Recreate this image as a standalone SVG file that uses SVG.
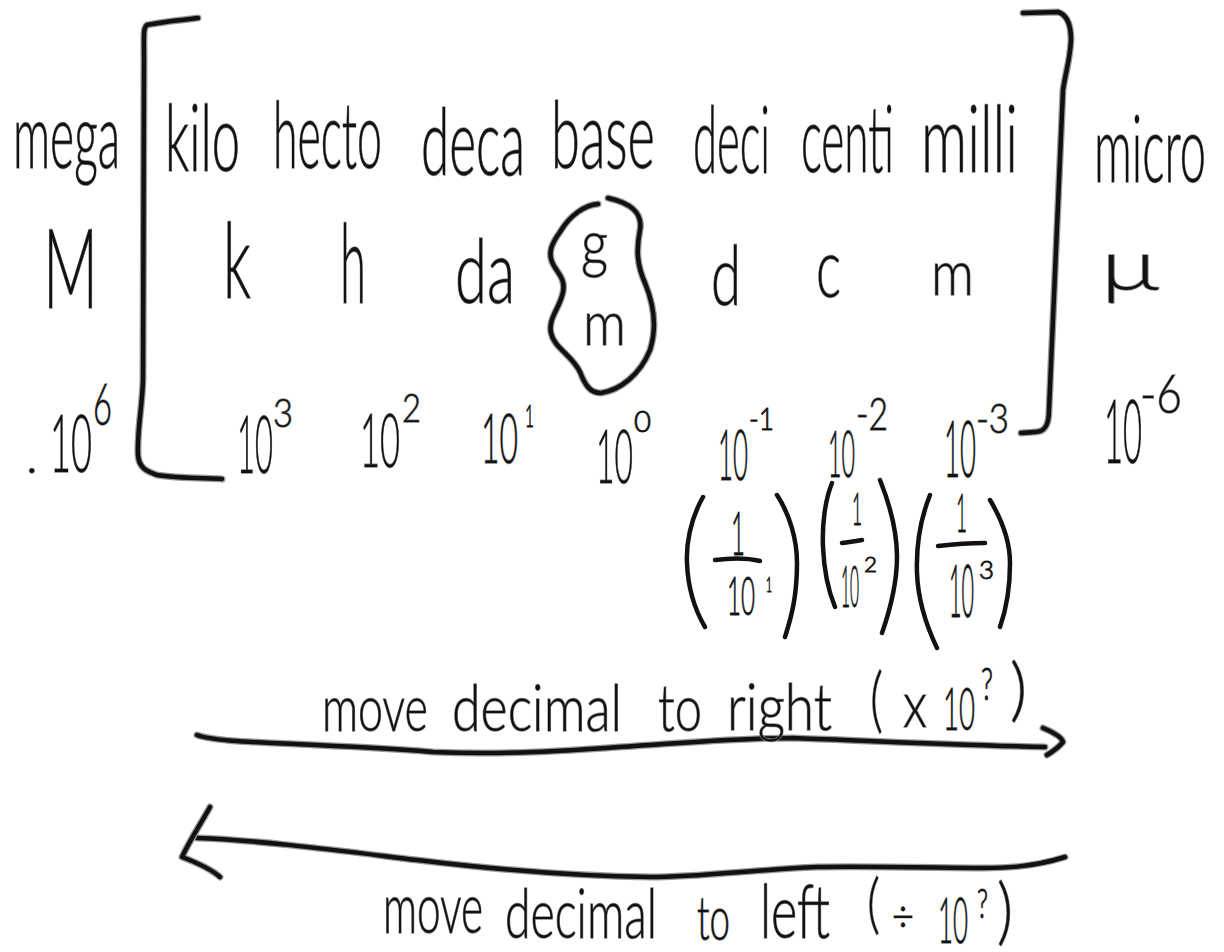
<svg xmlns="http://www.w3.org/2000/svg" width="1224" height="952" viewBox="0 0 1224 952">
<style>
.t{font-family:"Lato","Liberation Sans",Arial,sans-serif;font-weight:300;fill:#111;stroke:#8a8a8a;stroke-width:1.4;paint-order:stroke}
.s{stroke:#333;stroke-width:1}
.ink{fill:none;stroke:#111;stroke-width:4.5;stroke-linecap:round;stroke-linejoin:round}
.halo{fill:none;stroke:#9a9a9a;stroke-width:7;stroke-linecap:round;stroke-linejoin:round}
</style>
<rect width="1224" height="952" fill="#fff"/>
<g id="brackets">
<path class="halo" d="M198,18 C180,20 160,22 147,25 C143,28 144,35 144,60 L143,380 C142,410 137,430 138,455 C139,470 150,472 157,475 C175,478 200,478 222,479"/>
<path class="ink" d="M198,18 C180,20 160,22 147,25 C143,28 144,35 144,60 L143,380 C142,410 137,430 138,455 C139,470 150,472 157,475 C175,478 200,478 222,479"/>
<path class="halo" d="M1023,13 L1058,12 C1068,15 1071,25 1071,40 C1070,60 1066,70 1063,90 L1056,250 L1049,410 C1049,425 1045,432 1035,432 L1021,433"/>
<path class="ink" d="M1023,13 L1058,12 C1068,15 1071,25 1071,40 C1070,60 1066,70 1063,90 L1056,250 L1049,410 C1049,425 1045,432 1035,432 L1021,433"/>
</g>
<g id="mega">
<text class="t" x="13" y="168" font-size="90" textLength="107" lengthAdjust="spacingAndGlyphs">mega</text>
<text class="t" x="43" y="308" font-size="110" textLength="55" lengthAdjust="spacingAndGlyphs">M</text>
<text class="t" x="26" y="473" font-size="50">.</text>
<text class="t" x="50" y="472" font-size="80" textLength="42" lengthAdjust="spacingAndGlyphs">10</text>
<text class="t" x="93" y="425" font-size="58" textLength="19" lengthAdjust="spacingAndGlyphs">6</text>
</g>
<g id="kilo">
<text class="t" x="165" y="171" font-size="92" textLength="75" lengthAdjust="spacingAndGlyphs">kilo</text>
<text class="t" x="223" y="298" font-size="104" textLength="28" lengthAdjust="spacingAndGlyphs">k</text>
<text class="t" x="237" y="473" font-size="80" textLength="36" lengthAdjust="spacingAndGlyphs">10</text>
<text class="t" x="273" y="427" font-size="40" textLength="20" lengthAdjust="spacingAndGlyphs">3</text>
</g>
<g id="hecto">
<text class="t" x="273" y="168" font-size="92" textLength="109" lengthAdjust="spacingAndGlyphs">hecto</text>
<text class="t" x="340" y="303" font-size="110" textLength="26" lengthAdjust="spacingAndGlyphs">h</text>
<text class="t" x="360" y="467" font-size="74" textLength="40" lengthAdjust="spacingAndGlyphs">10</text>
<text class="t" x="402" y="422" font-size="40" textLength="19" lengthAdjust="spacingAndGlyphs">2</text>
</g>
<g id="deca">
<text class="t" x="421" y="175" font-size="92" textLength="104" lengthAdjust="spacingAndGlyphs">deca</text>
<text class="t" x="455" y="303" font-size="88" textLength="60" lengthAdjust="spacingAndGlyphs">da</text>
<text class="t" x="481" y="463" font-size="68" textLength="37" lengthAdjust="spacingAndGlyphs">10</text>
<text class="t s" x="525" y="427" font-size="32" textLength="9" lengthAdjust="spacingAndGlyphs">1</text>
</g>
<g id="base">
<text class="t" x="551" y="168" font-size="92" textLength="104" lengthAdjust="spacingAndGlyphs">base</text>
<path class="halo" d="M598,204 C585,205 570,215 560,232 C552,243 548,252 552,262 C556,272 566,278 563,292 C560,308 548,318 551,333 C554,348 572,355 580,372 C585,385 590,393 601,393 C620,390 640,375 650,350 C658,325 652,300 645,283 C637,265 636,250 640,230 C643,212 630,203 608,198"/>
<path class="ink" d="M598,204 C585,205 570,215 560,232 C552,243 548,252 552,262 C556,272 566,278 563,292 C560,308 548,318 551,333 C554,348 572,355 580,372 C585,385 590,393 601,393 C620,390 640,375 650,350 C658,325 652,300 645,283 C637,265 636,250 640,230 C643,212 630,203 608,198"/>
<text class="t" x="581" y="266" font-size="66" textLength="27" lengthAdjust="spacingAndGlyphs">g</text>
<text class="t" x="583" y="345" font-size="62" textLength="43" lengthAdjust="spacingAndGlyphs">m</text>
<text class="t" x="596" y="483" font-size="75" textLength="37" lengthAdjust="spacingAndGlyphs">10</text>
<text class="t s" x="634" y="432" font-size="30" textLength="17" lengthAdjust="spacingAndGlyphs">0</text>
</g>
<g id="deci">
<text class="t" x="693" y="173" font-size="92" textLength="77" lengthAdjust="spacingAndGlyphs">deci</text>
<text class="t" x="711" y="305" font-size="82" textLength="30" lengthAdjust="spacingAndGlyphs">d</text>
<text class="t" x="718" y="480" font-size="70" textLength="30" lengthAdjust="spacingAndGlyphs">10</text>
<text class="t s" x="749" y="430" font-size="32" textLength="25" lengthAdjust="spacingAndGlyphs">-1</text>
</g>
<g id="centi">
<text class="t" x="801" y="172" font-size="92" textLength="93" lengthAdjust="spacingAndGlyphs">centi</text>
<text class="t" x="816" y="297" font-size="82" textLength="25" lengthAdjust="spacingAndGlyphs">c</text>
<text class="t" x="828" y="477" font-size="66" textLength="27" lengthAdjust="spacingAndGlyphs">10</text>
<text class="t" x="856" y="430" font-size="46" textLength="32" lengthAdjust="spacingAndGlyphs">-2</text>
</g>
<g id="milli">
<text class="t" x="921" y="172" font-size="92" textLength="97" lengthAdjust="spacingAndGlyphs">milli</text>
<text class="t" x="931" y="295" font-size="64" textLength="43" lengthAdjust="spacingAndGlyphs">m</text>
<text class="t" x="944" y="477" font-size="78" textLength="32" lengthAdjust="spacingAndGlyphs">10</text>
<text class="t" x="976" y="433" font-size="42" textLength="33" lengthAdjust="spacingAndGlyphs">-3</text>
</g>
<g id="micro">
<text class="t" x="1094" y="182" font-size="92" textLength="112" lengthAdjust="spacingAndGlyphs">micro</text>
<text class="t" x="1101" y="290" font-size="70" textLength="58" lengthAdjust="spacingAndGlyphs">μ</text>
<text class="t" x="1104" y="463" font-size="88" textLength="38" lengthAdjust="spacingAndGlyphs">10</text>
<text class="t" x="1140" y="413" font-size="53" textLength="42" lengthAdjust="spacingAndGlyphs">-6</text>
</g>
<g id="fractions">
<g id="frac-1">
<path class="ink" d="M703,497 C690,520 686,545 687,563 C688,590 695,610 705,627"/>
<path class="ink" d="M777,495 C790,515 797,540 797,563 C797,595 792,615 785,637"/>
<text class="t s" x="731" y="555" font-size="62" textLength="14" lengthAdjust="spacingAndGlyphs">1</text>
<path class="ink" d="M715,560 C730,558 748,558 760,561"/>
<text class="t s" x="727" y="615" font-size="54" textLength="28" lengthAdjust="spacingAndGlyphs">10</text>
<text class="t s" x="766" y="592" font-size="22" textLength="6" lengthAdjust="spacingAndGlyphs">1</text>
</g>
<g id="frac-2">
<path class="ink" d="M832,483 C825,500 822,525 823,547 C824,570 828,590 835,607"/>
<path class="ink" d="M880,480 C890,505 897,530 897,557 C897,585 890,610 882,633"/>
<text class="t s" x="852" y="525" font-size="45" textLength="10" lengthAdjust="spacingAndGlyphs">1</text>
<path class="ink" d="M842,543 C850,542 856,541 862,540"/>
<text class="t s" x="841" y="607" font-size="58" textLength="18" lengthAdjust="spacingAndGlyphs">10</text>
<text class="t s" x="864" y="572" font-size="22" textLength="13" lengthAdjust="spacingAndGlyphs">2</text>
</g>
<g id="frac-3">
<path class="ink" d="M930,495 C920,520 916,545 917,573 C918,600 926,625 937,648"/>
<path class="ink" d="M990,500 C1002,520 1010,540 1010,563 C1010,590 1006,610 1000,627"/>
<text class="t s" x="956" y="532" font-size="54" textLength="11" lengthAdjust="spacingAndGlyphs">1</text>
<path class="ink" d="M938,546 C955,544 970,543 985,543"/>
<text class="t s" x="949" y="617" font-size="72" textLength="25" lengthAdjust="spacingAndGlyphs">10</text>
<text class="t s" x="979" y="579" font-size="26" textLength="15" lengthAdjust="spacingAndGlyphs">3</text>
</g>
</g>
<g id="connectors">
<path class="halo" d="M197,735 C220,744 300,742 433,752 C520,756 600,748 650,745 C720,740 760,738 793,738 C850,740 950,745 1045,747"/>
<path class="ink" d="M197,735 C220,744 300,742 433,752 C520,756 600,748 650,745 C720,740 760,738 793,738 C850,740 950,745 1045,747"/>
<path class="halo" d="M1043,728 C1055,733 1062,738 1063,742 C1058,748 1052,752 1047,755"/>
<path class="ink" d="M1043,728 C1055,733 1062,738 1063,742 C1058,748 1052,752 1047,755"/>
<path class="halo" d="M1065,857 C1030,868 1000,868 983,868 C900,867 850,866 817,867 C750,870 700,877 650,877 C550,876 450,864 417,860 C350,852 260,840 197,838"/>
<path class="ink" d="M1065,857 C1030,868 1000,868 983,868 C900,867 850,866 817,867 C750,870 700,877 650,877 C550,876 450,864 417,860 C350,852 260,840 197,838"/>
<path class="halo" d="M210,807 C200,825 190,840 182,857 C195,862 210,868 220,877"/>
<path class="ink" d="M210,807 C200,825 190,840 182,857 C195,862 210,868 220,877"/>
</g>
<g id="label-right">
<text class="t" x="322" y="731" font-size="66" textLength="106" lengthAdjust="spacingAndGlyphs">move</text>
<text class="t" x="452" y="731" font-size="66" textLength="170" lengthAdjust="spacingAndGlyphs">decimal</text>
<text class="t" x="658" y="731" font-size="66" textLength="44" lengthAdjust="spacingAndGlyphs">to</text>
<text class="t" x="727" y="730" font-size="66" textLength="105" lengthAdjust="spacingAndGlyphs">right</text>
<text class="t" x="870" y="724" font-size="70" textLength="13" lengthAdjust="spacingAndGlyphs">(</text>
<text class="t" x="903" y="727" font-size="66" textLength="24" lengthAdjust="spacingAndGlyphs">x</text>
<text class="t" x="943" y="730" font-size="60" textLength="32" lengthAdjust="spacingAndGlyphs">10</text>
<text class="t s" x="981" y="700" font-size="46" textLength="12" lengthAdjust="spacingAndGlyphs">?</text>
<text class="t" x="1010" y="713" font-size="68" textLength="17" lengthAdjust="spacingAndGlyphs">)</text>
</g>
<g id="label-left">
<text class="t" x="383" y="933" font-size="70" textLength="100" lengthAdjust="spacingAndGlyphs">move</text>
<text class="t" x="505" y="938" font-size="68" textLength="152" lengthAdjust="spacingAndGlyphs">decimal</text>
<text class="t" x="697" y="940" font-size="62" textLength="33" lengthAdjust="spacingAndGlyphs">to</text>
<text class="t" x="760" y="938" font-size="74" textLength="70" lengthAdjust="spacingAndGlyphs">left</text>
<text class="t" x="867" y="926" font-size="66" textLength="13" lengthAdjust="spacingAndGlyphs">(</text>
<text class="t s" x="892" y="932" font-size="46" textLength="22" lengthAdjust="spacingAndGlyphs">÷</text>
<text class="t" x="938" y="943" font-size="64" textLength="30" lengthAdjust="spacingAndGlyphs">10</text>
<text class="t s" x="977" y="918" font-size="42" textLength="11" lengthAdjust="spacingAndGlyphs">?</text>
<text class="t" x="997" y="936" font-size="72" textLength="16" lengthAdjust="spacingAndGlyphs">)</text>
</g>
</svg>
